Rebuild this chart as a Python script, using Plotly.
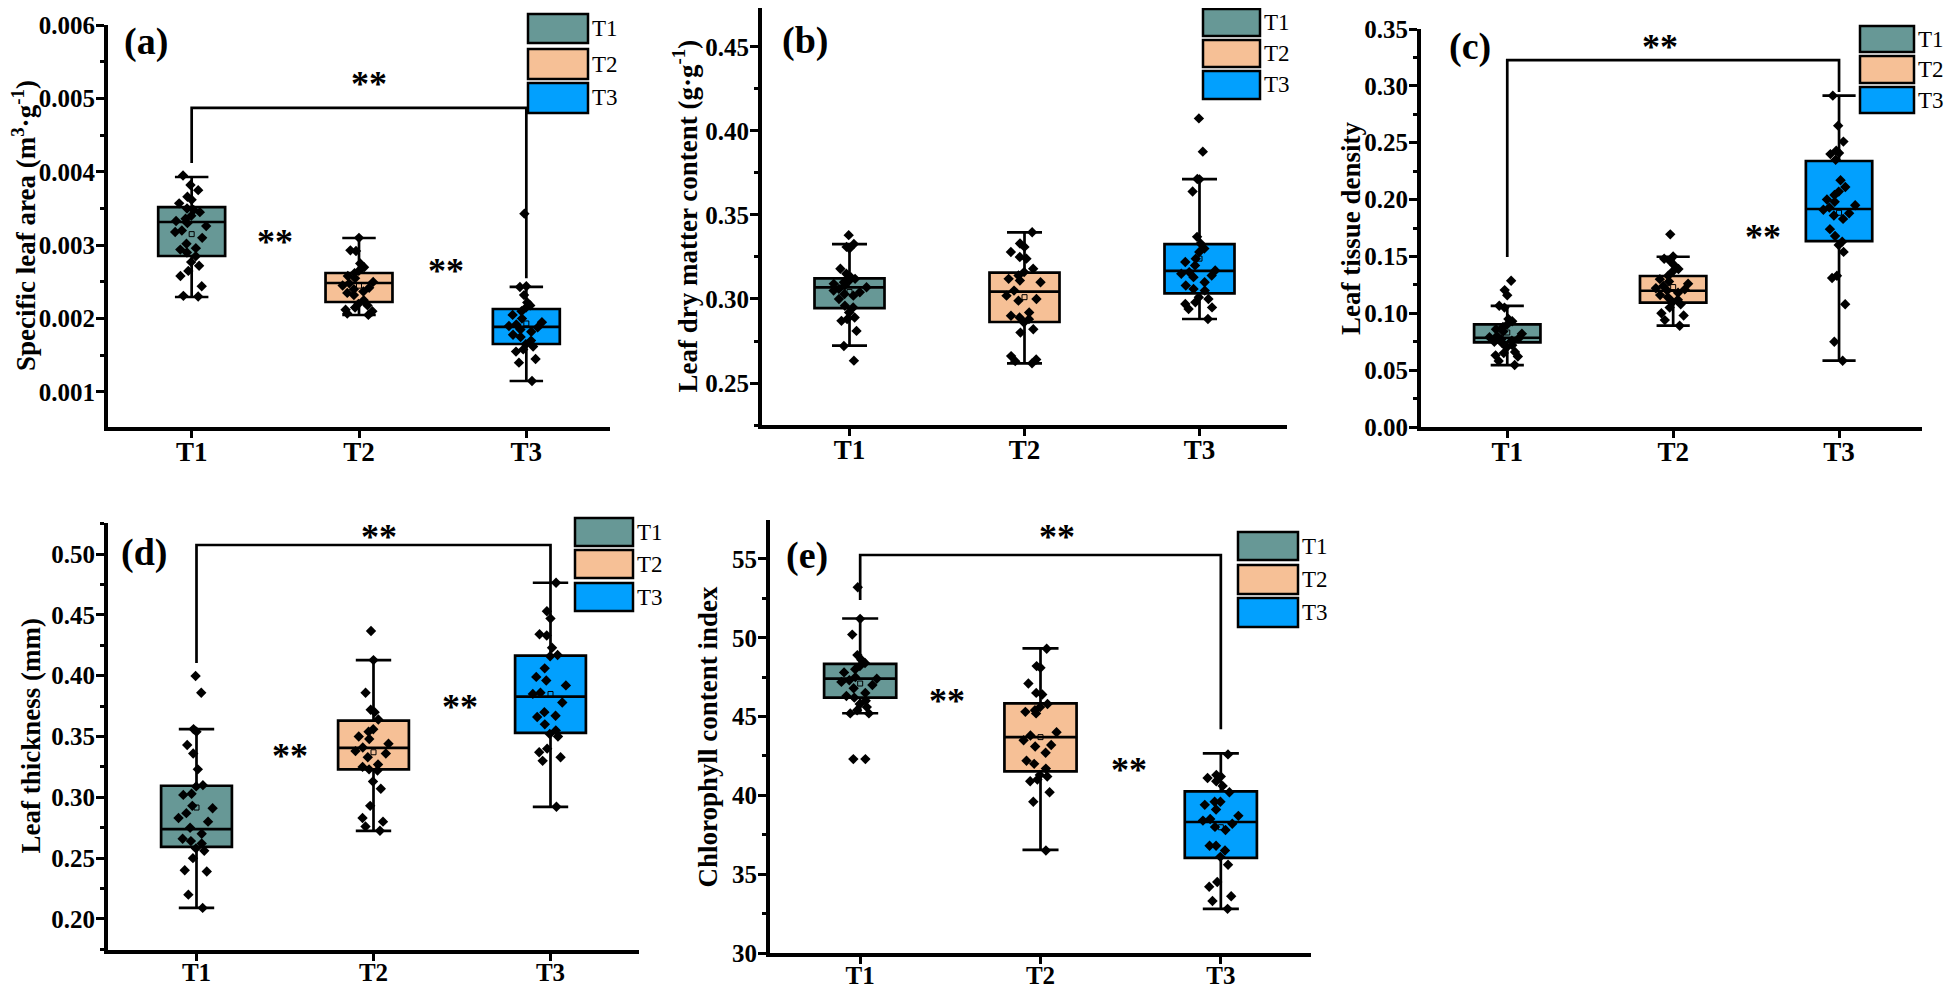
import numpy as np
import plotly.graph_objects as go

# page is 1952x988; the HTML body keeps an 8px margin, so the figure is offset by 8px
OFF = 8
W, H = 1952 - OFF, 988 - OFF
groups = ["T1", "T2", "T3"]
colors = ["#679896", "#F6C096", "#02A0FE"]

# ---------------- (a) Specific leaf area ----------------
sla_T1 = [0.00395, 0.00382, 0.00375, 0.00366, 0.00362, 0.00357, 0.00350, 0.00348, 0.00345, 0.00340,
          0.00336, 0.00333, 0.00330, 0.00326, 0.00320, 0.00318, 0.00310, 0.00302, 0.00296, 0.00294,
          0.00290, 0.00285, 0.00277, 0.00272, 0.00265, 0.00258, 0.00244, 0.00231, 0.00230]
sla_T2 = [0.00310, 0.00293, 0.00292, 0.00275, 0.00270, 0.00265, 0.00262, 0.00258, 0.00255, 0.00250,
          0.00248, 0.00245, 0.00242, 0.00240, 0.00237, 0.00235, 0.00232, 0.00225, 0.00220, 0.00218,
          0.00215, 0.00212, 0.00210, 0.00207, 0.00205]
sla_T3 = [0.00343, 0.00244, 0.00243, 0.00232, 0.00222, 0.00218, 0.00215, 0.00210, 0.00205, 0.00200,
          0.00195, 0.00192, 0.00190, 0.00188, 0.00185, 0.00182, 0.00178, 0.00175, 0.00170, 0.00165,
          0.00162, 0.00158, 0.00155, 0.00145, 0.00140, 0.00115]
sla_lo = [0.002294, 0.002049, 0.00115]
sla_q1 = [0.002853, 0.002226, 0.001654]
sla_med = [0.003316, 0.002485, 0.001886]
sla_q3 = [0.00352, 0.002621, 0.002131]
sla_hi = [0.003929, 0.003098, 0.002431]

# ---------------- (b) Leaf dry matter content ----------------
ldmc_T1 = [0.338, 0.3327, 0.331, 0.330, 0.318, 0.315, 0.313, 0.312, 0.311, 0.310, 0.309, 0.308, 0.307,
           0.306, 0.305, 0.304, 0.303, 0.302, 0.300, 0.296, 0.295, 0.292, 0.289, 0.288, 0.287, 0.281,
           0.272, 0.2633]
ldmc_T2 = [0.3397, 0.333, 0.331, 0.328, 0.325, 0.324, 0.318, 0.316, 0.314, 0.312, 0.311, 0.310, 0.305,
           0.302, 0.300, 0.299, 0.292, 0.290, 0.289, 0.288, 0.286, 0.282, 0.280, 0.266, 0.264, 0.263,
           0.2617]
ldmc_T3 = [0.4075, 0.3877, 0.3714, 0.3712, 0.364, 0.337, 0.333, 0.330, 0.328, 0.324, 0.322, 0.320,
           0.317, 0.316, 0.315, 0.314, 0.313, 0.310, 0.308, 0.306, 0.305, 0.301, 0.300, 0.298, 0.297,
           0.295, 0.294, 0.2881]
ldmc_lo = [0.2722, 0.2617, 0.2881]
ldmc_q1 = [0.2946, 0.2863, 0.3034]
ldmc_med = [0.3069, 0.3044, 0.3167]
ldmc_q3 = [0.3123, 0.3157, 0.3327]
ldmc_hi = [0.3327, 0.3397, 0.3714]

# ---------------- (c) Leaf tissue density ----------------
ltd_T1 = [0.1286, 0.1204, 0.1158, 0.1066, 0.105, 0.095, 0.093, 0.090, 0.088, 0.086, 0.084, 0.082,
          0.080, 0.079, 0.078, 0.077, 0.076, 0.075, 0.074, 0.072, 0.070, 0.066, 0.065, 0.063, 0.062,
          0.058, 0.0545]
ltd_T2 = [0.1694, 0.150, 0.148, 0.146, 0.142, 0.139, 0.137, 0.133, 0.130, 0.128, 0.126, 0.124, 0.122,
          0.121, 0.120, 0.118, 0.116, 0.114, 0.112, 0.110, 0.108, 0.105, 0.100, 0.098, 0.094, 0.0891]
ltd_T3 = [0.2914, 0.265, 0.251, 0.243, 0.241, 0.240, 0.235, 0.217, 0.211, 0.207, 0.204, 0.200, 0.198,
          0.195, 0.193, 0.191, 0.188, 0.186, 0.183, 0.174, 0.168, 0.163, 0.160, 0.154, 0.133, 0.131,
          0.108, 0.075, 0.0583]
ltd_lo = [0.0545, 0.0891, 0.0583]
ltd_q1 = [0.0744, 0.1093, 0.1635]
ltd_med = [0.0785, 0.1198, 0.1917]
ltd_q3 = [0.0903, 0.1328, 0.2339]
ltd_hi = [0.1066, 0.1497, 0.2914]

# ---------------- (d) Leaf thickness ----------------
lt_T1 = [0.3997, 0.386, 0.3561, 0.354, 0.343, 0.336, 0.323, 0.310, 0.309, 0.303, 0.302, 0.293, 0.291,
         0.287, 0.283, 0.280, 0.275, 0.270, 0.266, 0.264, 0.262, 0.258, 0.256, 0.250, 0.240, 0.239,
         0.220, 0.2091]
lt_T2 = [0.4367, 0.4128, 0.386, 0.372, 0.370, 0.364, 0.356, 0.354, 0.350, 0.348, 0.344, 0.341, 0.338,
         0.336, 0.333, 0.327, 0.325, 0.323, 0.322, 0.313, 0.307, 0.293, 0.283, 0.280, 0.276, 0.2725]
lt_T3 = [0.4764, 0.453, 0.447, 0.434, 0.433, 0.423, 0.417, 0.416, 0.406, 0.399, 0.396, 0.392, 0.386,
         0.385, 0.378, 0.370, 0.367, 0.366, 0.360, 0.355, 0.352, 0.350, 0.340, 0.337, 0.333, 0.330,
         0.2922]
lt_lo = [0.2091, 0.2725, 0.2922]
lt_q1 = [0.2593, 0.323, 0.353]
lt_med = [0.2738, 0.3407, 0.3827]
lt_q3 = [0.3095, 0.363, 0.4164]
lt_hi = [0.3561, 0.4128, 0.4764]

# ---------------- (e) Chlorophyll content index ----------------
cci_T1 = [53.2, 51.2, 50.2, 48.9, 48.6, 48.4, 48.2, 48.0, 47.8, 47.5, 47.4, 47.3, 47.2, 47.0, 46.8,
          46.5, 46.3, 46.2, 46.0, 45.8, 45.6, 45.4, 45.2, 45.2, 42.3, 42.3]
cci_T2 = [49.3, 48.2, 48.1, 47.1, 46.5, 46.4, 45.8, 45.6, 45.4, 45.3, 45.2, 44.0, 43.8, 43.5, 43.2,
          43.1, 42.7, 42.2, 42.0, 41.7, 41.3, 41.2, 41.0, 40.9, 40.2, 39.6, 36.5]
cci_T3 = [42.6, 41.3, 41.2, 41.1, 40.9, 40.6, 40.2, 39.6, 39.6, 39.4, 39.1, 38.7, 38.5, 38.4, 38.2,
          38.0, 37.8, 36.8, 36.8, 36.5, 36.1, 35.6, 34.5, 34.2, 33.6, 33.3, 32.8]
cci_lo = [45.21, 36.54, 32.8]
cci_q1 = [46.2, 41.52, 36.03]
cci_med = [47.41, 43.69, 38.31]
cci_q3 = [48.34, 45.84, 40.25]
cci_hi = [51.22, 49.32, 42.66]

# significance markers: (x, y) in data units; brackets: (left end, top, right end)
sig_a = [(1.06, 0.00526), (0.5, 0.00311), (1.52, 0.00272)]
br_a = (0.00412, 0.00487, 0.00255)
sig_c = [(0.92, 0.3386), (1.54, 0.1715)]
br_c = (0.1495, 0.3227, 0.2946)
sig_d = [(1.03, 0.518), (0.53, 0.338), (1.49, 0.378)]
br_d = (0.4104, 0.5074, 0.476)
sig_e = [(1.09, 56.7), (0.48, 46.3), (1.49, 41.9)]
br_e = (52.4, 55.25, 44.2)

FONT = "Liberation Serif"

panels = [
    dict(key="", pts=[sla_T1, sla_T2, sla_T3], lo=sla_lo, q1=sla_q1, med=sla_med, q3=sla_q3, hi=sla_hi,
         dom=(108, 610, 25, 427), yr=[0.000523, 0.006], xr=[-0.5, 2.5], dtick=0.001, tick0=0.001, fmt=".3f",
         title="Specific leaf area (m<sup>3</sup>·g<sup>-1</sup>)", tx=24, label="(a)", lab=(146, 42),
         leg=(528, 588, [(14, 43), (49, 79), (83, 113)]), sig=sig_a, br=br_a, xls=27, xso=-9),
    dict(key="2", pts=[ldmc_T1, ldmc_T2, ldmc_T3], lo=ldmc_lo, q1=ldmc_q1, med=ldmc_med, q3=ldmc_q3, hi=ldmc_hi,
         dom=(762, 1287, 8, 425), yr=[0.225, 0.4732], xr=[-0.5, 2.5], dtick=0.05, tick0=0.25, fmt=".2f",
         title="Leaf dry matter content (g·g<sup>-1</sup>)", tx=686, label="(b)", lab=(805, 41),
         leg=(1203, 1260, [(9, 36), (40, 67), (71, 99)]), sig=[], br=None, xls=27, xso=-9),
    dict(key="3", pts=[ltd_T1, ltd_T2, ltd_T3], lo=ltd_lo, q1=ltd_q1, med=ltd_med, q3=ltd_q3, hi=ltd_hi,
         dom=(1421, 1922, 29, 427), yr=[0, 0.35], xr=[-0.52, 2.5], dtick=0.05, tick0=0, fmt=".2f",
         title="Leaf tissue density", tx=1351, label="(c)", lab=(1470, 46),
         leg=(1860, 1914, [(26, 52), (56, 83), (87, 113)]), sig=sig_c, br=br_c, xls=27, xso=-9),
    dict(key="4", pts=[lt_T1, lt_T2, lt_T3], lo=lt_lo, q1=lt_q1, med=lt_med, q3=lt_q3, hi=lt_hi,
         dom=(108, 639, 523, 950), yr=[0.1745, 0.5255], xr=[-0.5, 2.5], dtick=0.05, tick0=0.2, fmt=".2f",
         title="Leaf thickness (mm)", tx=30, label="(d)", lab=(144, 552),
         leg=(575, 633, [(518, 546), (550, 578), (583, 611)]), sig=sig_d, br=br_d, xls=25, xso=-10),
    dict(key="5", pts=[cci_T1, cci_T2, cci_T3], lo=cci_lo, q1=cci_q1, med=cci_med, q3=cci_q3, hi=cci_hi,
         dom=(770, 1311, 520, 953), yr=[30, 57.47], xr=[-0.5, 2.5], dtick=5, tick0=30, fmt="d",
         title="Chlorophyll content index", tx=707, label="(e)", lab=(807, 555),
         leg=(1238, 1298, [(532, 560), (565, 594), (598, 627)]), sig=sig_e, br=br_e, xls=25, xso=-10),
]


def px(x):
    return min(1.0, max(0.0, (x - OFF) / W))


def py(y):
    return min(1.0, max(0.0, 1 - (y - OFF) / H))


fig = go.Figure()
shapes = []
annotations = []
layout = dict(width=W, height=H, margin=dict(l=0, r=0, t=0, b=0, autoexpand=False),
              paper_bgcolor="white", plot_bgcolor="white", showlegend=False, boxmode="overlay")

for p in panels:
    k = p["key"]
    xa, ya = "x" + k, "y" + k
    # box statistics
    for i, g in enumerate(groups):
        fig.add_trace(go.Box(
            x=[g], q1=[p["q1"][i]], median=[p["med"][i]], q3=[p["q3"][i]],
            lowerfence=[p["lo"][i]], upperfence=[p["hi"][i]],
            width=0.4, whiskerwidth=0.5, fillcolor=colors[i],
            line=dict(color="black", width=2.7), boxpoints=False,
            xaxis=xa, yaxis=ya, hoverinfo="skip"))
    # individual observations (jitter by plotly)
    for i, g in enumerate(groups):
        fig.add_trace(go.Box(
            x=[g] * len(p["pts"][i]), y=p["pts"][i], width=0.4,
            boxpoints="all", jitter=0.55, pointpos=0,
            fillcolor="rgba(0,0,0,0)", line=dict(color="rgba(0,0,0,0)", width=0),
            marker=dict(symbol="diamond", size=8, color="black", line=dict(width=0)),
            xaxis=xa, yaxis=ya, hoverinfo="skip"))
    # mean marker
    fig.add_trace(go.Scatter(
        x=groups, y=[float(np.mean(v)) for v in p["pts"]], mode="markers",
        marker=dict(symbol="square-open", size=5, color="black", line=dict(width=1)),
        xaxis=xa, yaxis=ya, hoverinfo="skip"))

    x0, x1, y0, y1 = p["dom"]
    yfont = dict(family=FONT, size=25, color="black", weight="bold")
    xfont = dict(family=FONT, size=p["xls"], color="black", weight="bold")
    layout["xaxis" + k] = dict(
        domain=[px(x0), px(x1)], anchor=ya, type="category", categoryorder="array",
        categoryarray=groups, range=p["xr"], showline=True, linecolor="black", linewidth=4,
        ticks="outside", ticklen=7, tickwidth=2.5, tickcolor="black", showgrid=False,
        zeroline=False, tickfont=xfont, fixedrange=True, automargin=False,
        ticklabelstandoff=p["xso"])
    layout["yaxis" + k] = dict(
        domain=[py(y1), py(y0)], anchor=xa, range=p["yr"], showline=True, linecolor="black",
        linewidth=4, ticks="outside", ticklen=8, tickwidth=3, tickcolor="black",
        tick0=p["tick0"], dtick=p["dtick"], tickformat=p["fmt"], showgrid=False, zeroline=False,
        tickfont=yfont, fixedrange=True, automargin=False, ticklabelstandoff=-4,
        minor=dict(ticks="outside", ticklen=4, tickwidth=3, tickcolor="black",
                   dtick=p["dtick"] / 2, tick0=p["tick0"], showgrid=False))

    # y-axis title
    annotations.append(dict(
        text=p["title"], x=px(p["tx"]), y=py((y0 + y1) / 2), xref="paper", yref="paper",
        textangle=-90, showarrow=False, xanchor="center", yanchor="middle",
        font=dict(family=FONT, size=27, color="black", weight="bold")))
    # panel label
    annotations.append(dict(
        text=p["label"], x=px(p["lab"][0]), y=py(p["lab"][1]), xref="paper", yref="paper",
        showarrow=False, xanchor="center", yanchor="middle",
        font=dict(family=FONT, size=38, color="black", weight="bold")))
    # legend swatches
    lx0, lx1, rows = p["leg"]
    for i, (ry0, ry1) in enumerate(rows):
        shapes.append(dict(type="rect", xref="paper", yref="paper", x0=px(lx0), x1=px(lx1),
                           y0=py(ry1), y1=py(ry0), fillcolor=colors[i],
                           line=dict(color="black", width=2.5), layer="above"))
        annotations.append(dict(
            text=groups[i], x=px(lx1 + 2), y=py((ry0 + ry1) / 2), xref="paper", yref="paper",
            showarrow=False, xanchor="left", yanchor="middle",
            font=dict(family=FONT, size=23, color="black")))
    # significance brackets
    if p["br"] is not None:
        yl, yt, yr_ = p["br"]
        shapes.append(dict(type="path", xref=xa, yref=ya,
                           path=f"M 0,{yl} L 0,{yt} L 2,{yt} L 2,{yr_}",
                           line=dict(color="black", width=2.7)))
    for (sx, sy) in p["sig"]:
        annotations.append(dict(
            text="**", x=sx, y=sy, xref=xa, yref=ya, showarrow=False, xanchor="center",
            yanchor="middle", yshift=-5,
            font=dict(family=FONT, size=36, color="black", weight="bold")))

layout["shapes"] = shapes
layout["annotations"] = annotations
fig.update_layout(**layout)
fig.write_html("out.html")
